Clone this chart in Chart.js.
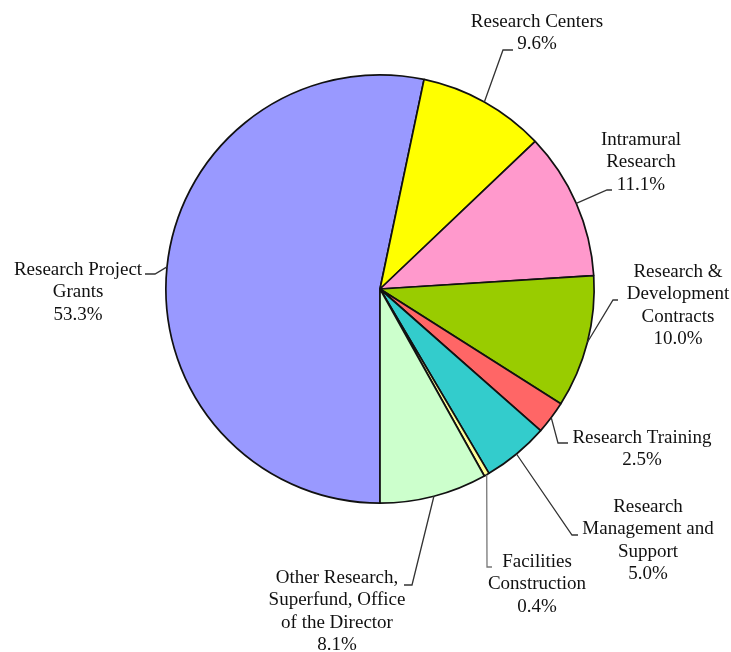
<!DOCTYPE html>
<html>
<head>
<meta charset="utf-8">
<script src="https://cdn.jsdelivr.net/npm/chart.js@4.4.1/dist/chart.umd.min.js"></script>
<style>
  html, body { margin: 0; padding: 0; background: #fff; }
  #budget { display: block; }
</style>
</head>
<body>
<canvas id="budget" width="731" height="652"></canvas>
<script>
// budget shares by mechanism, percent of total
const categories = [
    'Research Project\nGrants',
    'Research Centers',
    'Intramural\nResearch',
    'Research &\nDevelopment\nContracts',
    'Research Training',
    'Research\nManagement and\nSupport',
    'Facilities\nConstruction',
    'Other Research,\nSuperfund, Office\nof the Director'
];
const shares = [53.3, 9.6, 11.1, 10.0, 2.5, 5.0, 0.4, 8.1];
const sliceColors = ['#9999ff', '#ffff00', '#ff99cc', '#99cc00', '#ff6666', '#33cccc', '#ffff99', '#ccffcc'];

// where each callout text sits and how its leader bends (text centre x, first line y, elbow, end)
const calloutSpots = [
    {x: 78,  y: 270, elbow: [155, 274], end: [145, 274]},
    {x: 537, y: 22,  elbow: [503, 50],  end: [513, 50]},
    {x: 641, y: 140, elbow: [607, 190], end: [612, 190]},
    {x: 678, y: 272, elbow: [613, 300], end: [618, 300]},
    {x: 642, y: 438, elbow: [558, 443], end: [568, 443]},
    {x: 648, y: 507, elbow: [572, 535], end: [578, 535]},
    {x: 537, y: 562, elbow: [487, 567], end: [492, 567]},
    {x: 337, y: 578, elbow: [412, 585], end: [404, 585]}
];
const lineGap = 22.5;

// draws the text labels with their leader lines
const calloutPlugin = {
    id: 'callouts',
    afterDraw(chart) {
        const ctx = chart.ctx;
        const arcs = chart.getDatasetMeta(0).data;
        ctx.save();
        ctx.font = '19px "Liberation Serif", "Times New Roman", serif';
        ctx.textAlign = 'center';
        ctx.textBaseline = 'middle';
        arcs.forEach(function(arc, i) {
            const spot = calloutSpots[i];
            const mid = (arc.startAngle + arc.endAngle) / 2;
            const ax = arc.x + Math.cos(mid) * arc.outerRadius;
            const ay = arc.y + Math.sin(mid) * arc.outerRadius;
            ctx.strokeStyle = i == 6 ? '#777' : '#333';
            ctx.lineWidth = 1.3;
            ctx.beginPath();
            ctx.moveTo(ax, ay);
            ctx.lineTo(spot.elbow[0], spot.elbow[1]);
            ctx.lineTo(spot.end[0], spot.end[1]);
            ctx.stroke();

            let lines = categories[i].split('\n');
            lines.push(shares[i].toFixed(1) + '%');
            ctx.fillStyle = '#111';
            lines.forEach(function(txt, k) {
                ctx.fillText(txt, spot.x, spot.y + k * lineGap);
            });
        });
        ctx.restore();
    }
};

new Chart(document.getElementById('budget'), {
    type: 'pie',
    data: {
        labels: categories,
        datasets: [{
            data: shares,
            backgroundColor: sliceColors,
            borderColor: '#111',
            borderWidth: 1.7
        }]
    },
    options: {
        responsive: false,
        animation: false,
        rotation: 180,
        layout: {padding: {left: 165, right: 136, top: 74, bottom: 148}},
        plugins: {
            legend: {display: false},
            tooltip: {enabled: false}
        }
    },
    plugins: [calloutPlugin]
});
</script>
</body>
</html>
